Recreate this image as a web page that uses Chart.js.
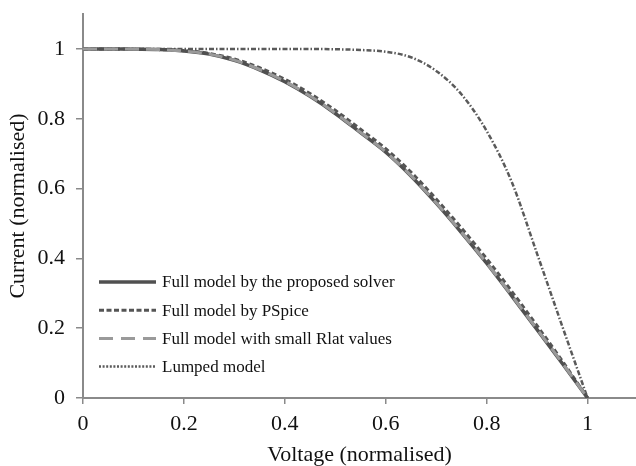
<!DOCTYPE html>
<html>
<head>
<meta charset="utf-8">
<script src="https://cdn.jsdelivr.net/npm/chart.js@4/dist/chart.umd.min.js"></script>
<style>
html,body{margin:0;padding:0;background:#fff;}
#wrap{width:636px;height:466px;position:relative;}
</style>
</head>
<body>
<div id="wrap"><canvas id="c" width="636" height="466"></canvas></div>
<script>
const voltage = [0,0.05,0.1,0.15,0.2,0.25,0.3,0.35,0.4,0.45,0.5,0.55,0.6,0.65,0.7,0.75,0.8,0.85,0.9,0.95,1.0];
const fullSolver = [1.000,1.000,0.999,0.998,0.994,0.985,0.967,0.940,0.906,0.864,0.815,0.760,0.704,0.636,0.558,0.474,0.386,0.292,0.196,0.099,0];
const fullPSpice = [1.000,1.000,0.999,0.998,0.995,0.987,0.971,0.946,0.913,0.872,0.824,0.770,0.714,0.647,0.570,0.487,0.399,0.305,0.207,0.106,0];
const fullSmallRlat = [1.000,1.000,0.999,0.998,0.994,0.985,0.968,0.941,0.907,0.865,0.816,0.761,0.705,0.637,0.559,0.475,0.387,0.293,0.197,0.100,0];
const lumped = [1.000,1.000,1.000,1.000,1.000,1.000,1.000,1.000,1.000,1.000,0.999,0.997,0.992,0.976,0.937,0.870,0.765,0.618,0.413,0.205,0];
const seriesNames = ["Full model by the proposed solver","Full model by PSpice","Full model with small Rlat values","Lumped model"];
const xTicks = [0,0.2,0.4,0.6,0.8,1];
const yTicks = [0,0.2,0.4,0.6,0.8,1];

function pts(ys){ return voltage.map((v,i)=>({x:v,y:ys[i]})); }

const styles = [
  {color:'#9a9a9a', width:3, dash:[14,7], legendDash:[14,8]},
  {color:'#505050', width:3.5, dash:[], legendDash:[]},
  {color:'#555555', width:3, dash:[5,3], legendDash:[5,2.5]},
  {color:'#5a5a5a', width:2.5, dash:[5,2,1.5,2], legendDash:[2,1.6]}
];

const datasets = [
  {label:seriesNames[2], data:pts(fullSmallRlat), borderColor:styles[0].color, borderWidth:styles[0].width, borderDash:styles[0].dash, legendOrder:2, legendDash:styles[0].legendDash},
  {label:seriesNames[0], data:pts(fullSolver), borderColor:styles[1].color, borderWidth:styles[1].width, borderDash:styles[1].dash, legendOrder:0, legendDash:styles[1].legendDash},
  {label:seriesNames[1], data:pts(fullPSpice), borderColor:styles[2].color, borderWidth:styles[2].width, borderDash:styles[2].dash, legendOrder:1, legendDash:styles[2].legendDash},
  {label:seriesNames[3], data:pts(lumped), borderColor:styles[3].color, borderWidth:styles[3].width, borderDash:styles[3].dash, legendOrder:3, legendDash:styles[3].legendDash}
].map(d=>Object.assign(d,{pointRadius:0, fill:false, cubicInterpolationMode:'monotone', borderCapStyle:'butt'}));

const insideLegend = {
  id:'insideLegend',
  afterDraw(chart){
    const ctx = chart.ctx;
    const ordered = chart.data.datasets.slice().sort((a,b)=>a.legendOrder-b.legendOrder);
    const x0 = 99, x1 = 156, tx = 162, y0 = 282, dy = 28.2;
    ctx.save();
    ctx.font = '17px "Liberation Serif"';
    ctx.textBaseline = 'middle';
    ctx.fillStyle = '#111';
    ordered.forEach((d,i)=>{
      const y = y0 + i*dy;
      ctx.beginPath();
      ctx.setLineDash(d.legendDash);
      ctx.lineWidth = d.borderWidth;
      ctx.strokeStyle = d.borderColor;
      ctx.moveTo(x0,y); ctx.lineTo(x1,y); ctx.stroke();
      ctx.setLineDash([]);
      ctx.fillText(d.label, tx, y+1);
    });
    ctx.restore();
  }
};

const tickFont = {family:'"Liberation Serif"', size:22};
const titleFont = {family:'"Liberation Serif"', size:22, lineHeight:1.0};
new Chart(document.getElementById('c'), {
  type:'line',
  data:{datasets},
  options:{
    responsive:false, animation:false,
    layout:{padding:{top:14,right:0,left:0,bottom:0}},
    plugins:{legend:{display:false}, tooltip:{enabled:false}},
    scales:{
      x:{type:'linear', min:0, max:1.096,
        afterBuildTicks(s){ s.ticks = xTicks.map(v=>({value:v})); },
        afterFit(s){ s.height = 68; s.paddingRight = 0; },
        grid:{drawOnChartArea:false, drawTicks:true, tickLength:6, color:'#8a8a8a', lineWidth:1.5},
        border:{color:'#8a8a8a', width:2},
        ticks:{font:tickFont, color:'#111', padding:7, maxRotation:0, callback:(v)=>String(v)},
        title:{display:true, text:'Voltage (normalised)', font:titleFont, color:'#111', padding:{top:0,bottom:0}}
      },
      y:{type:'linear', min:0, max:1.1,
        afterBuildTicks(s){ s.ticks = yTicks.map(v=>({value:v})); },
        afterFit(s){ s.width = 83; s.paddingTop = 0; s.paddingBottom = 0; },
        grid:{drawOnChartArea:false, drawTicks:true, tickLength:7, color:'#8a8a8a', lineWidth:1.5},
        border:{color:'#8a8a8a', width:2},
        ticks:{font:tickFont, color:'#111', padding:11, callback:(v)=>String(v)},
        title:{display:true, text:'Current (normalised)', font:titleFont, color:'#111', padding:{top:7,bottom:0}}
      }
    }
  },
  plugins:[insideLegend]
});
</script>
</body>
</html>
